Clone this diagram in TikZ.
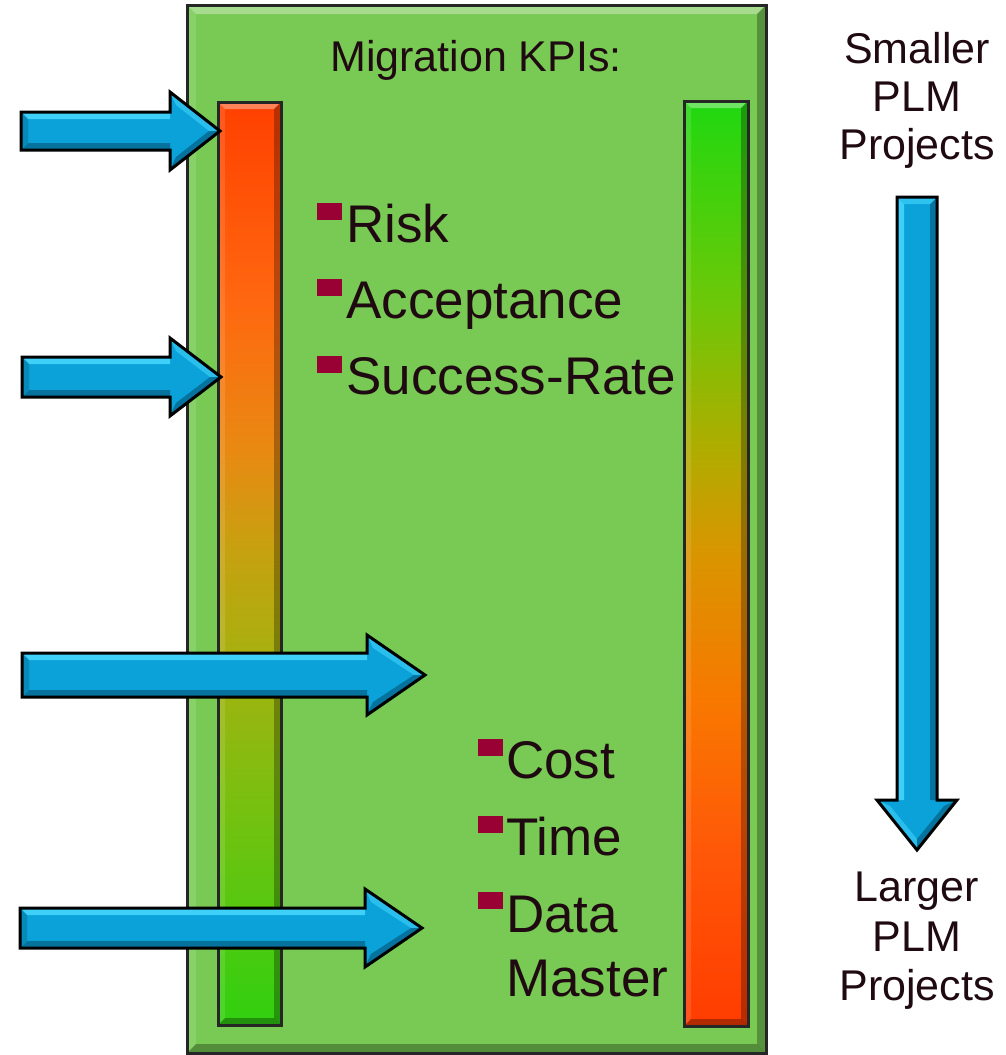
\documentclass[tikz,border=0pt]{standalone}
\usepackage{fontspec}
\setmainfont{Liberation Sans}
\definecolor{boxgreen}{HTML}{78CA54}
\definecolor{txt}{HTML}{200A12}
\definecolor{bul}{HTML}{990033}
\definecolor{ablue}{HTML}{0AA2D8}
\definecolor{ablueL}{HTML}{3ED0F8}
\definecolor{ablueD}{HTML}{06729E}
\definecolor{Lone}{HTML}{30D010}
\definecolor{Ltwo}{HTML}{78C010}
\definecolor{Lthree}{HTML}{A8B010}
\definecolor{Lfour}{HTML}{C8A010}
\definecolor{Lfive}{HTML}{E88A12}
\definecolor{Lsix}{HTML}{FF6810}
\definecolor{Lseven}{HTML}{FF4000}
\definecolor{Rone}{HTML}{20D810}
\definecolor{Rtwo}{HTML}{6CC808}
\definecolor{Rthree}{HTML}{B0AC00}
\definecolor{Rfour}{HTML}{D89600}
\definecolor{Rfive}{HTML}{F87800}
\definecolor{Rsix}{HTML}{FF5808}
\definecolor{Rseven}{HTML}{FF3C00}
\pgfdeclareverticalshading{leftbarsh}{100bp}{color(0bp)=(Lone); color(25bp)=(Lone); color(37bp)=(Ltwo); color(45bp)=(Lthree); color(51bp)=(Lfour); color(56bp)=(Lfive); color(64bp)=(Lsix); color(75bp)=(Lseven); color(100bp)=(Lseven)}
\pgfdeclareverticalshading{rightbarsh}{100bp}{color(0bp)=(Rseven); color(25bp)=(Rseven); color(34.5bp)=(Rsix); color(42.6bp)=(Rfive); color(50.7bp)=(Rfour); color(56.1bp)=(Rthree); color(64.2bp)=(Rtwo); color(75bp)=(Rone); color(100bp)=(Rone)}
\newcommand\bevelbox[5]{%
  \fill[white,opacity=.35] (#1,#2)--(#3,#2)--({#3-#5},{#2+#5})--({#1+#5},{#2+#5})--cycle;
  \fill[white,opacity=.12] (#1,#2)--({#1+#5},{#2+#5})--({#1+#5},{#4-#5})--(#1,#4)--cycle;
  \fill[black,opacity=.28] (#3,#2)--(#3,#4)--({#3-#5},{#4-#5})--({#3-#5},{#2+#5})--cycle;
  \fill[black,opacity=.30] (#1,#4)--(#3,#4)--({#3-#5},{#4-#5})--({#1+#5},{#4-#5})--cycle;
}
\newcommand\hArrow[6]{% x0 xb tip yc sh hh
  \fill[ablue] (#1,{#4-#5}) -- (#2,{#4-#5}) -- (#2,{#4-#6}) -- (#3,#4) -- (#2,{#4+#6}) -- (#2,{#4+#5}) -- (#1,{#4+#5}) -- cycle;
  \fill[ablueL] (#1,{#4-#5}) -- (#2,{#4-#5}) -- (#2,{#4-#5+7}) -- ({#1+7},{#4-#5+7}) -- cycle;
  \fill[ablueD] (#1,{#4+#5}) -- (#2,{#4+#5}) -- (#2,{#4+#5-7}) -- ({#1+7},{#4+#5-7}) -- cycle;
  \fill[ablue!85!black] (#1,{#4-#5}) -- ({#1+7},{#4-#5+7}) -- ({#1+7},{#4+#5-7}) -- (#1,{#4+#5}) -- cycle;
  \fill[ablueL!60!ablue] (#2,{#4-#6}) -- (#3,#4) -- ({#3-11},#4) -- ({#2+6},{#4-#6+13}) -- cycle;
  \fill[ablueD] (#2,{#4+#6}) -- (#3,#4) -- ({#3-11},#4) -- ({#2+6},{#4+#6-13}) -- cycle;
  \draw[black,line width=3pt,line join=miter] (#1,{#4-#5}) -- (#2,{#4-#5}) -- (#2,{#4-#6}) -- (#3,#4) -- (#2,{#4+#6}) -- (#2,{#4+#5}) -- (#1,{#4+#5}) -- cycle;
}
\newcommand\vArrow[6]{% y0 yb tip xc sh hh
  \fill[ablue] ({#4-#5},#1) -- ({#4-#5},#2) -- ({#4-#6},#2) -- (#4,#3) -- ({#4+#6},#2) -- ({#4+#5},#2) -- ({#4+#5},#1) -- cycle;
  \fill[ablueL] ({#4-#5},#1) -- ({#4-#5},#2) -- ({#4-#5+7},#2) -- ({#4-#5+7},{#1+7}) -- cycle;
  \fill[ablueD] ({#4+#5},#1) -- ({#4+#5},#2) -- ({#4+#5-7},#2) -- ({#4+#5-7},{#1+7}) -- cycle;
  \fill[ablueL!70!ablue] ({#4-#5},#1) -- ({#4-#5+7},{#1+7}) -- ({#4+#5-7},{#1+7}) -- ({#4+#5},#1) -- cycle;
  \fill[ablueL!60!ablue] ({#4-#6},#2) -- (#4,#3) -- (#4,{#3-11}) -- ({#4-#6+13},{#2+6}) -- cycle;
  \fill[ablueD] ({#4+#6},#2) -- (#4,#3) -- (#4,{#3-11}) -- ({#4+#6-13},{#2+6}) -- cycle;
  \draw[black,line width=3pt,line join=miter] ({#4-#5},#1) -- ({#4-#5},#2) -- ({#4-#6},#2) -- (#4,#3) -- ({#4+#6},#2) -- ({#4+#5},#2) -- ({#4+#5},#1) -- cycle;
}
\tikzset{
  kpi/.style={anchor=base west,inner sep=0pt,text=txt,font=\fontsize{53}{64}\selectfont},
  side/.style={anchor=base,inner sep=0pt,text=txt,font=\fontsize{43}{48}\selectfont},
  bulletsq/.style={fill=bul},
  barline/.style={draw=black!85,line width=3pt}
}
\begin{document}
\begin{tikzpicture}[x=1pt,y=-1pt]
\useasboundingbox (0,0) rectangle (1005,1055);
\fill[white] (0,0) rectangle (1005,1055);
% main green box
\fill[boxgreen] (187,5) rectangle (766,1053);
\bevelbox{187}{5}{766}{1053}{9}
\draw[black!85,line width=3pt] (187,5) rectangle (766,1053);
% left bar
\shade[shading=leftbarsh] (218,102) rectangle (281,1025);
\bevelbox{218}{102}{281}{1025}{7}
\draw[barline] (218,102) rectangle (281,1025);
% right bar
\shade[shading=rightbarsh] (684,101) rectangle (748,1026);
\bevelbox{684}{101}{748}{1026}{7}
\draw[barline] (684,101) rectangle (748,1026);
% arrows
\hArrow{21}{170}{220}{131}{19}{39}
\hArrow{22}{170}{221}{377}{20}{39}
\hArrow{22}{367}{425}{675}{22}{40}
\hArrow{20}{365}{422}{928}{20}{39}
\vArrow{197}{800}{850}{917}{20}{40}
% title
\node[side] (title) at (476,71) {Migration KPIs:};
% upper KPIs
\fill[bulletsq] (317,203) rectangle (342,220);
\node[kpi] (risk) at (346,242) {Risk};
\fill[bulletsq] (317,279) rectangle (342,296);
\node[kpi] (acc) at (346,318) {Acceptance};
\fill[bulletsq] (317,356) rectangle (342,373);
\node[kpi] (succ) at (346,394) {Success-Rate};
% lower KPIs
\fill[bulletsq] (478,739) rectangle (503,756);
\node[kpi] (cost) at (506,778) {Cost};
\fill[bulletsq] (478,816) rectangle (503,833);
\node[kpi] (time) at (506,855) {Time};
\fill[bulletsq] (478,892) rectangle (503,909);
\node[kpi] (data) at (506,932) {Data};
\node[kpi] (master) at (506,996) {Master};
% side labels
\node[side] (sm1) at (917,63) {Smaller};
\node[side] (sm2) at (917,111) {PLM};
\node[side] (sm3) at (917,159) {Projects};
\node[side] (lg1) at (917,901) {Larger};
\node[side] (lg2) at (917,951) {PLM};
\node[side] (lg3) at (917,1000) {Projects};
\end{tikzpicture}
\end{document}
